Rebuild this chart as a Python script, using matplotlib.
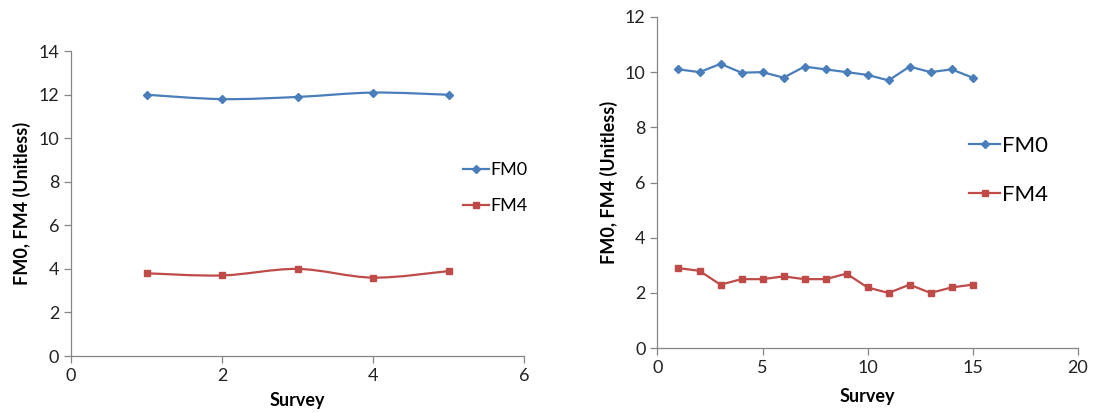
import numpy as np
import matplotlib
matplotlib.use("Agg")
import matplotlib.pyplot as plt
from matplotlib.path import Path
from matplotlib.patches import PathPatch

plt.rcParams['font.family'] = ['Lato', 'DejaVu Sans']

# left panel: 5 surveys
survey_a = [1, 2, 3, 4, 5]
fm0_a = [12.0, 11.8, 11.9, 12.1, 12.0]
fm4_a = [3.8, 3.7, 4.0, 3.6, 3.9]

# right panel: 15 surveys
survey_b = list(range(1, 16))
fm0_b = [10.1, 10.0, 10.3, 9.98, 10.0, 9.8, 10.2, 10.1, 10.0, 9.9, 9.7, 10.2, 10.0, 10.1, 9.8]
fm4_b = [2.9, 2.8, 2.3, 2.5, 2.5, 2.6, 2.5, 2.5, 2.7, 2.2, 2.0, 2.3, 2.0, 2.2, 2.3]

BLUE = '#4a7ebb'
RED = '#be4b48'
GREY = '#868686'


def smooth_line(ax, x, y, color):
    # excel-style smoothed line drawn as bezier segments through the points
    x = np.asarray(x, float); y = np.asarray(y, float)
    verts = [(x[0], y[0])]
    codes = [Path.MOVETO]
    n = len(x)
    for i in range(n - 1):
        x0, y0 = (x[i-1], y[i-1]) if i > 0 else (x[i], y[i])
        x3, y3 = (x[i+2], y[i+2]) if i + 2 < n else (x[i+1], y[i+1])
        c1 = (x[i] + (x[i+1] - x0) / 6, y[i] + (y[i+1] - y0) / 6)
        c2 = (x[i+1] - (x3 - x[i]) / 6, y[i+1] - (y3 - y[i]) / 6)
        verts += [c1, c2, (x[i+1], y[i+1])]
        codes += [Path.CURVE4] * 3
    ax.add_patch(PathPatch(Path(verts, codes), facecolor='none', edgecolor=color, lw=1.6))


def style(ax, xpad):
    for s in ('top', 'right'):
        ax.spines[s].set_visible(False)
    for s in ('left', 'bottom'):
        ax.spines[s].set_color(GREY)
        ax.spines[s].set_linewidth(0.9)
    ax.tick_params(colors=GREY, labelcolor='#222222', labelsize=13, length=5, width=0.9)
    ax.set_xlabel('Survey', fontsize=13, fontweight='bold', labelpad=xpad)
    ax.set_ylabel('FM0, FM4 (Unitless)', fontsize=13, fontweight='bold', labelpad=5)


fig = plt.figure(figsize=(10.94, 4.13), dpi=100)

ax1 = fig.add_axes([0.065, 0.138, 0.414, 0.738])
smooth_line(ax1, survey_a, fm0_a, BLUE)
smooth_line(ax1, survey_a, fm4_a, RED)
ax1.plot(survey_a, fm0_a, ls='none', marker='D', ms=4, color=BLUE, label='FM0')
ax1.plot(survey_a, fm4_a, ls='none', marker='s', ms=5, color=RED, label='FM4')
ax1.set_xlim(0, 6)
ax1.set_ylim(0, 14)
ax1.set_xticks(range(0, 7, 2))
ax1.set_yticks(range(0, 15, 2))
style(ax1, 6)
h1 = [plt.Line2D([], [], color=BLUE, marker='D', ms=4, lw=1.6),
      plt.Line2D([], [], color=RED, marker='s', ms=5, lw=1.6)]
ax1.legend(h1, ['FM0', 'FM4'], loc='center left', bbox_to_anchor=(0.83, 0.551),
           frameon=False, fontsize=13, handlelength=1.4, handletextpad=0.1,
           labelspacing=1.1)

ax2 = fig.add_axes([0.601, 0.157, 0.384, 0.802])
ax2.plot(survey_b, fm0_b, color=BLUE, lw=1.6, marker='D', ms=4, label='FM0')
ax2.plot(survey_b, fm4_b, color=RED, lw=1.6, marker='s', ms=5, label='FM4')
ax2.set_xlim(0, 20)
ax2.set_ylim(0, 12)
ax2.set_xticks(range(0, 21, 5))
ax2.set_yticks(range(0, 13, 2))
style(ax2, 9)
ax2.legend(loc='center left', bbox_to_anchor=(0.694, 0.537), frameon=False,
           fontsize=16, handlelength=1.4, handletextpad=0.1, labelspacing=1.3)

fig.savefig('out.png', dpi=100)
